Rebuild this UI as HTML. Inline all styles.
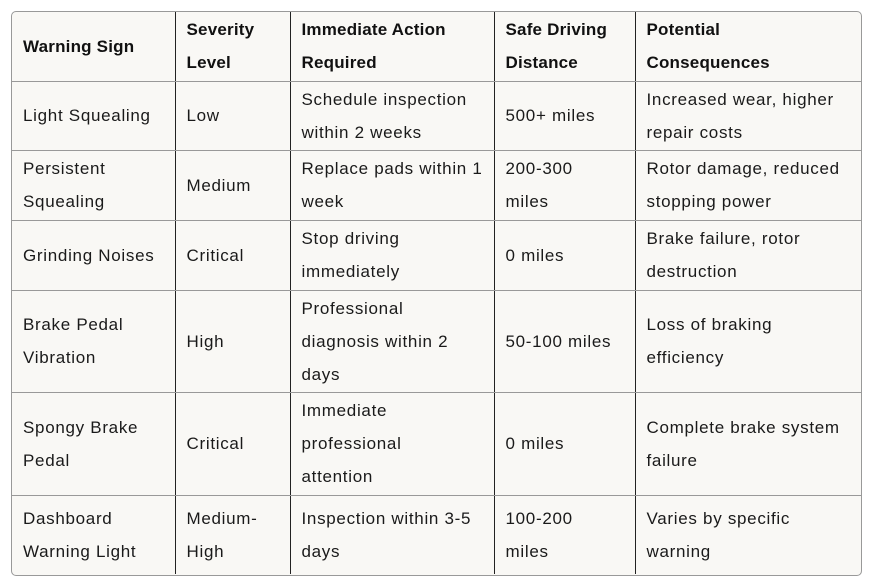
<!DOCTYPE html>
<html><head><meta charset="utf-8"><style>
body{margin:0;background:#fff;width:872px;height:584px;overflow:hidden;font-family:"Liberation Sans",sans-serif;}
.wrap{position:absolute;left:11px;top:11px;width:849px;height:563px;border:1px solid #999;border-radius:5px;overflow:hidden;background:#f9f8f5;}
table{border-collapse:collapse;table-layout:fixed;width:849px;}
td,th{font-size:17px;letter-spacing:0.7px;line-height:33px;color:#1a1a1a;text-align:left;vertical-align:middle;padding:0 6px 0 11px;border-bottom:1px solid #999;border-right:1px solid #222;font-weight:normal;white-space:nowrap;overflow:hidden;}
th{font-weight:bold;color:#111;letter-spacing:0.2px;}
td:last-child,th:last-child{border-right:none;}
tr:last-child td{border-bottom:none;}
</style></head><body>
<div class="wrap">
<table>
<colgroup><col style="width:163px"><col style="width:115px"><col style="width:204px"><col style="width:141px"><col style="width:226px"></colgroup>
<tr style="height:69px"><th>Warning Sign</th><th>Severity<br>Level</th><th>Immediate Action<br>Required</th><th>Safe Driving<br>Distance</th><th>Potential<br>Consequences</th></tr>
<tr style="height:69px"><td>Light Squealing</td><td>Low</td><td>Schedule inspection<br>within 2 weeks</td><td>500+ miles</td><td>Increased wear, higher<br>repair costs</td></tr>
<tr style="height:70px"><td>Persistent<br>Squealing</td><td>Medium</td><td>Replace pads within 1<br>week</td><td>200-300<br>miles</td><td>Rotor damage, reduced<br>stopping power</td></tr>
<tr style="height:70px"><td>Grinding Noises</td><td>Critical</td><td>Stop driving<br>immediately</td><td>0 miles</td><td>Brake failure, rotor<br>destruction</td></tr>
<tr style="height:102px"><td>Brake Pedal<br>Vibration</td><td>High</td><td>Professional<br>diagnosis within 2<br>days</td><td>50-100 miles</td><td>Loss of braking<br>efficiency</td></tr>
<tr style="height:103px"><td>Spongy Brake<br>Pedal</td><td>Critical</td><td>Immediate<br>professional<br>attention</td><td>0 miles</td><td>Complete brake system<br>failure</td></tr>
<tr style="height:79px"><td>Dashboard<br>Warning Light</td><td>Medium-<br>High</td><td>Inspection within 3-5<br>days</td><td>100-200<br>miles</td><td>Varies by specific<br>warning</td></tr>
</table></div>
</body></html>
